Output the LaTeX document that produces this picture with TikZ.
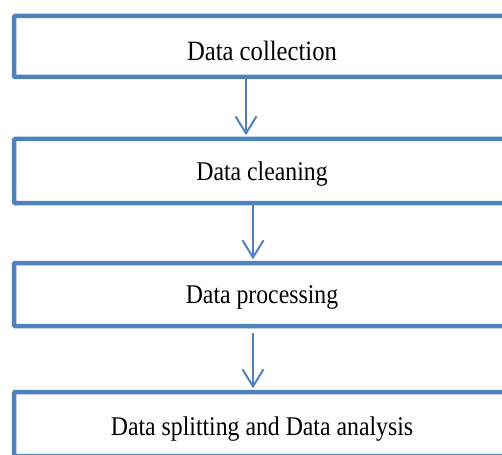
\documentclass[tikz,border=0pt]{standalone}
\usepackage{fontspec}
\setmainfont[FakeStretch=0.88]{Liberation Serif}
\usetikzlibrary{arrows.meta}
\definecolor{stepblue}{RGB}{79,129,189}

\begin{document}
\begin{tikzpicture}[x=1pt,y=-1pt,
  stagebox/.style={draw=stepblue,line width=4.5pt,rounded corners=1pt,
    minimum width=496pt,inner sep=0pt,font=\fontsize{27}{30}\selectfont,
    text height=18pt,text depth=0pt},
  flow/.style={stepblue,line width=2pt,shorten >=1.5pt,
    -{Straight Barb[length=17pt,width=21pt,line width=2pt]}}]
  \path[use as bounding box,clip] (0,0) rectangle (502,454);
  % the four stages, cut off at the right edge
  \node[stagebox,minimum height=61pt,text height=29pt,font=\fontsize{28}{30}\selectfont]
    (collect) at (262,46.5) {Data collection};
  \node[stagebox,minimum height=64pt] (clean) at (262,171) {Data cleaning};
  \node[stagebox,minimum height=63pt] (process) at (262,294.5) {Data processing};
  \node[stagebox,minimum height=64pt,text height=22pt] (analyse) at (262,424)
    {Data splitting and Data analysis};
  % connectors
  \draw[flow] ([xshift=-16pt]collect.south) -- ([xshift=-16pt]clean.north);
  \draw[flow] ([xshift=-9pt]clean.south) -- ([xshift=-9pt]process.north);
  \draw[flow,shorten <=5pt] ([xshift=-9pt]process.south) -- ([xshift=-9pt]analyse.north);
\end{tikzpicture}
\end{document}
